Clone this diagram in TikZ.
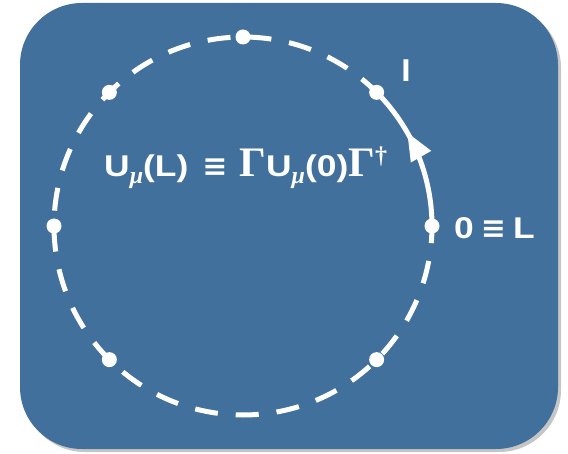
\documentclass[tikz,border=0pt]{standalone}
\usepackage{fontspec}
\setmainfont{Liberation Sans}
\newfontfamily\widesans[FakeStretch=1.18]{Liberation Sans}
\newfontfamily\serifbold{Liberation Serif}
\newfontfamily\dvsans{DejaVu Sans}
\usetikzlibrary{arrows.meta,positioning,decorations.markings}
\definecolor{panelblue}{HTML}{40709B}
\newcommand{\submu}{\raisebox{-7pt}{\serifbold\itshape\fontsize{24}{24}\selectfont μ}}
\newcommand{\bigGamma}{{\serifbold\fontsize{42}{42}\selectfont Γ}}
\newcommand{\equivsym}{{\dvsans\bfseries ≡}}

\begin{document}
\begin{tikzpicture}[
  x=1pt, y=1pt,
  panel/.style={fill=panelblue, rounded corners=62pt},
  shade/.style={fill=gray!45, rounded corners=62pt},
  sitept/.style={circle, fill=white, inner sep=0pt, minimum size=15pt},
  dashline/.style={white, line width=5pt, dash pattern=on 23pt off 18pt, dash phase=3pt},
  linkline/.style={white, line width=5pt, postaction={decorate},
    decoration={markings, mark=at position 0.66 with {\arrow[white]{Triangle[length=28pt,width=22pt]}}}},
  lbl/.style={text=white, font=\widesans\fontsize{30}{34}\selectfont\bfseries, inner sep=0pt}
]
\useasboundingbox (0,0) rectangle (568,453);

% Panel
\fill[shade] (23,1) rectangle (561,447);
\fill[panel] (20,4) rectangle (558,450);

% Sites on the circle
\coordinate (c) at (243,227);
\foreach \a/\n in {0/p0,45/p45,90/p90,135/p135,180/p180,225/p225,315/p315}
  \node[sitept] (\n) at ([shift={(\a:189pt)}]c) {};

% Links
\draw[dashline] (p45.center) arc[start angle=45, end angle=360, radius=189pt];
\draw[linkline] (p0.center) arc[start angle=0, end angle=45, radius=189pt];

% Labels
\node[lbl, anchor=base] (llab) at (406,371) {l};
\node[lbl, anchor=base west] (zlab) at (454,214) {0\hspace{7pt}\equivsym\hspace{7pt}L};
\node[lbl, anchor=base west] (bc) at (104,276)
  {U\submu(L)\hspace{14pt}\equivsym\hspace{12pt}\bigGamma U\submu(0)\bigGamma\raisebox{13pt}{\serifbold\fontsize{24}{24}\selectfont †}};

\end{tikzpicture}
\end{document}
